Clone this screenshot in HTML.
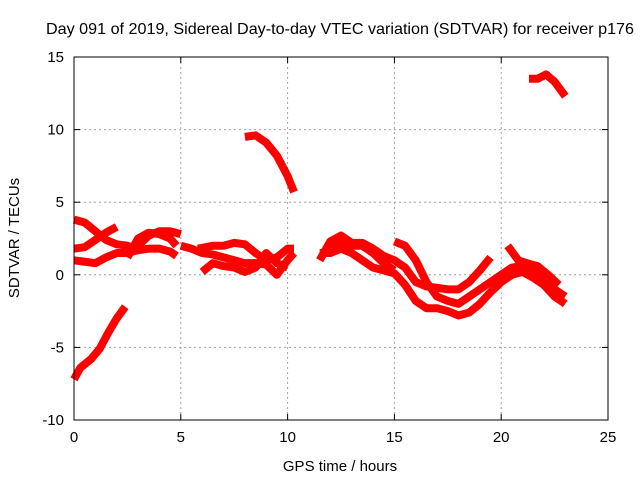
<!DOCTYPE html>
<html><head><meta charset="utf-8"><style>
body{margin:0;background:#fff;width:640px;height:480px;overflow:hidden}
svg{font-family:"Liberation Sans",sans-serif;font-size:15px}
</style></head><body>
<svg id="chart" width="640" height="480" viewBox="0 0 640 480">
<text x="340" y="34" text-anchor="middle" style="font-size:16px" textLength="588" lengthAdjust="spacingAndGlyphs">Day 091 of 2019, Sidereal Day-to-day VTEC variation (SDTVAR) for receiver p176</text>
<text x="340" y="471" text-anchor="middle">GPS time / hours</text>
<text transform="translate(19,238) rotate(-90)" text-anchor="middle">SDTVAR / TECUs</text>
<g id="grid"></g>
<g id="series"></g>
<rect x="74" y="57" width="534" height="363" fill="none" stroke="#000" stroke-width="1"/>
<g id="ticks"></g>
</svg>
<script>
const xTicks=[0,5,10,15,20,25];
const yTicks=[-10,-5,0,5,10,15];
const trackA=[[0,-7.2],[0.3,-6.4],[0.8,-5.8],[1.2,-5.1],[1.6,-4.0],[2.0,-3.0],[2.4,-2.2]];
const trackB=[[0,3.8],[0.5,3.6],[1.0,3.0],[1.5,2.4],[2.0,2.1],[2.5,2.0],[3,1.7]];
const trackC=[[0,1.8],[0.5,1.9],[1,2.4],[1.5,2.9],[2,3.3]];
const trackD=[[0,1.0],[0.5,0.9],[1,0.8],[1.5,1.2],[2,1.5],[2.5,1.5],[3,1.7],[3.5,1.8],[4,1.8],[4.5,1.6],[4.8,1.3]];
const trackE=[[2.5,1.2],[3,2.5],[3.5,2.9],[4,2.8],[4.5,2.5],[4.8,2.0]];
const trackF=[[3,2.0],[3.5,2.7],[4,3.0],[4.5,3.0],[5,2.8]];
const trackG=[[5,2.0],[5.5,1.8],[6,1.5],[6.5,1.4],[7,1.2],[7.5,1.0],[8,0.8],[8.5,0.8],[9,0.7],[9.5,0.0],[10,1.0],[10.3,1.5]];
const trackH=[[5.8,1.8],[6.5,2.0],[7,2.0],[7.5,2.2],[8,2.1],[8.5,1.5],[9,1.0],[9.5,1.2],[10,1.8],[10.3,1.8]];
const trackI=[[6,0.2],[6.5,0.8],[7,0.6],[7.5,0.5],[8,0.2],[8.5,0.5],[9,1.5],[9.5,0.8],[10,0.5]];
const trackJ=[[8,9.5],[8.5,9.6],[9,9.1],[9.5,8.2],[10,6.8],[10.3,5.7]];
const trackK=[[21.3,13.5],[21.7,13.5],[22.1,13.8],[22.5,13.3],[23,12.3]];
const trackL=[[11.5,1.0],[12,2.3],[12.5,2.7],[13,2.2],[13.5,2.2],[14,1.8],[14.5,1.3],[15,1.0],[15.5,0.5],[16,-0.5],[16.5,-0.8],[17,-0.9],[17.5,-1.0],[18,-1.0],[18.5,-0.5],[19,0.3],[19.5,1.2]];
const trackM=[[11.5,1.5],[12,1.5],[12.5,1.8],[13,1.5],[13.5,1.0],[14,0.5],[14.5,0.3],[15,0.1],[15.5,-0.7],[16,-1.8],[16.5,-2.3],[17,-2.3],[17.5,-2.5],[18,-2.8],[18.5,-2.6],[19,-2.0],[19.5,-1.2],[20,-0.5],[20.5,0],[21,0.2],[21.5,-0.2],[22,-0.7],[22.5,-1.5],[23,-2.0]];
const trackN=[[15,2.3],[15.5,2.0],[16,1.0],[16.5,-0.5],[17,-1.5],[17.5,-1.8],[18,-2.0],[18.5,-1.5],[19,-1.0],[19.5,-0.5],[20,0],[20.5,0.5],[21,0.6],[21.5,0.4],[22,-0.5],[22.5,-1.0],[23,-1.5]];
const trackO=[[20.3,2.0],[20.8,1.0],[21.2,0.8],[21.7,0.6],[22.2,0.0],[22.7,-0.7]];
const trackP=[[12,2.0],[12.5,2.3],[13,2.0],[13.5,2.0],[14,1.5],[14.5,0.8],[15,0.3]];
const tracks=[trackA,trackB,trackC,trackD,trackE,trackF,trackG,trackH,trackI,trackJ,trackK,trackL,trackM,trackN,trackO,trackP];
const X0=74,X1=608,Y0=420,Y1=57;
const sx=v=>X0+(v-0)/(25-0)*(X1-X0);
const sy=v=>Y0-(v+10)/(25)*(Y0-Y1);
const NS='http://www.w3.org/2000/svg';
const grid=document.getElementById('grid'),ticks=document.getElementById('ticks'),ser=document.getElementById('series');
function mk(tag,attrs,parent){const e=document.createElementNS(NS,tag);for(const k in attrs)e.setAttribute(k,attrs[k]);parent.appendChild(e);return e;}
xTicks.forEach(t=>{const x=sx(t);
 if(t>0&&t<25){const g=mk('line',{x1:x,x2:x,y1:Y1,y2:Y0,stroke:'#a0a0a0','stroke-dasharray':'2,3'},grid);}
 const l=mk('line',{x1:x,x2:x,y1:Y0,y2:Y0-6,stroke:'#000'},ticks);
 const l2=mk('line',{x1:x,x2:x,y1:Y1,y2:Y1+6,stroke:'#000'},ticks);
 const tx=mk('text',{x:x,y:442,'text-anchor':'middle'},ticks);tx.textContent=t;});
yTicks.forEach(t=>{const y=sy(t);
 if(t>-10&&t<15){const g=mk('line',{x1:X0,x2:X1,y1:y,y2:y,stroke:'#a0a0a0','stroke-dasharray':'2,3'},grid);}
 const l=mk('line',{x1:X0,x2:X0+6,y1:y,y2:y,stroke:'#000'},ticks);
 const l2=mk('line',{x1:X1,x2:X1-6,y1:y,y2:y,stroke:'#000'},ticks);
 const tx=mk('text',{x:64,y:y+5,'text-anchor':'end'},ticks);tx.textContent=t;});
tracks.forEach(tr=>{const p=mk('polyline',{points:tr.map(d=>sx(d[0])+','+sy(d[1])).join(' '),fill:'none',stroke:'#ff0000','stroke-width':8,'stroke-linejoin':'round'},ser);
 
 });
</script>
</body></html>
